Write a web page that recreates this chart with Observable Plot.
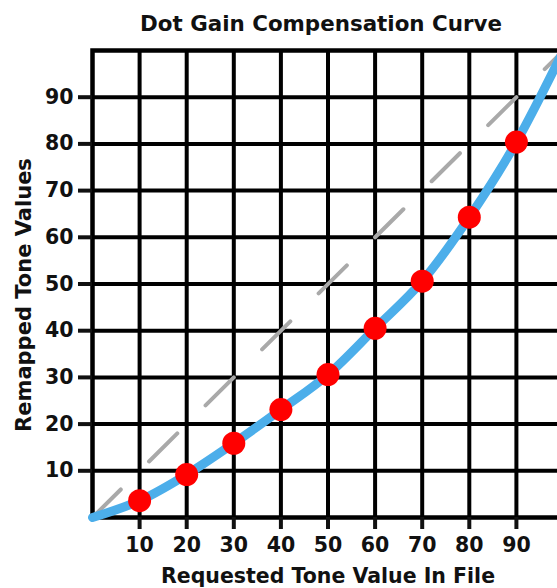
<!DOCTYPE html>
<html><head><meta charset="utf-8">
<script src="https://cdn.jsdelivr.net/npm/d3@7"></script>
<script src="https://cdn.jsdelivr.net/npm/@observablehq/plot@0.6"></script>
<style>
html,body{margin:0;padding:0;background:#fff;overflow:hidden;}
</style></head><body><div id="chart"></div>
<script>
const chartTitle = "Dot Gain Compensation Curve";
const xLabel = "Requested Tone Value In File";
const yLabel = "Remapped Tone Values";
const tickValues = [10, 20, 30, 40, 50, 60, 70, 80, 90];
// measured points (requested -> remapped)
const requested = [10, 20, 30, 40, 50, 60, 70, 80, 90];
const remapped = [3.6, 9.2, 15.9, 23.1, 30.6, 40.5, 50.6, 64.3, 80.4];
// curve passes through the end points too
const curveX = [0, 10, 20, 30, 40, 50, 60, 70, 80, 90, 100];
const curveY = [0, 3.6, 9.2, 15.9, 23.1, 30.6, 40.5, 50.6, 64.3, 80.4, 100];
// linear reference (no compensation)
const diagX = [0, 100];
const diagY = [0, 100];

const font = "'DejaVu Sans', sans-serif";

const chart = Plot.plot({
  width: 557,
  height: 588,
  marginTop: 50,
  marginBottom: 71,
  marginLeft: 92,
  marginRight: -6,
  style: {fontFamily: font, fontWeight: "bold", color: "#111", background: "#fff"},
  x: {domain: [0, 100]},
  y: {domain: [0, 100]},
  marks: [
    Plot.gridX(tickValues, {stroke: "#000", strokeOpacity: 1, strokeWidth: 4}),
    Plot.gridY(tickValues, {stroke: "#000", strokeOpacity: 1, strokeWidth: 4}),
    Plot.frame({stroke: "#000", strokeWidth: 4.5}),
    Plot.axisX(tickValues, {tickSize: 12, tickPadding: 8, strokeWidth: 4, fontSize: 20.5, fontWeight: "bold",
      label: xLabel, labelAnchor: "center", labelOffset: 65, labelArrow: "none"}),
    Plot.axisY(tickValues, {tickSize: 14, tickPadding: 5, strokeWidth: 4, fontSize: 20.5, fontWeight: "bold",
      label: null}),
    Plot.text([yLabel], {frameAnchor: "left", rotate: -90, dx: -68, dy: 11, textAnchor: "middle", lineAnchor: "middle",
      fontSize: 21, fontWeight: "bold", fill: "#111"}),
    Plot.line(diagY, {x: diagX, y: diagY, stroke: "#a9a9a9", strokeWidth: 4, strokeDasharray: "39.8,39.8"}),
    Plot.line(curveY, {x: curveX, y: curveY, stroke: "#4caeea", strokeWidth: 9, curve: "monotone-x", strokeLinecap: "round"}),
    Plot.dot(remapped, {x: requested, y: remapped, r: 11.5, fill: "#ff0000", stroke: "none"}),
    Plot.text([chartTitle], {frameAnchor: "top", dx: -7, dy: -26, lineAnchor: "middle", fontSize: 21.4, fontWeight: "bold", fill: "#111"})
  ]
});
document.getElementById("chart").appendChild(chart);
</script>
</body></html>
